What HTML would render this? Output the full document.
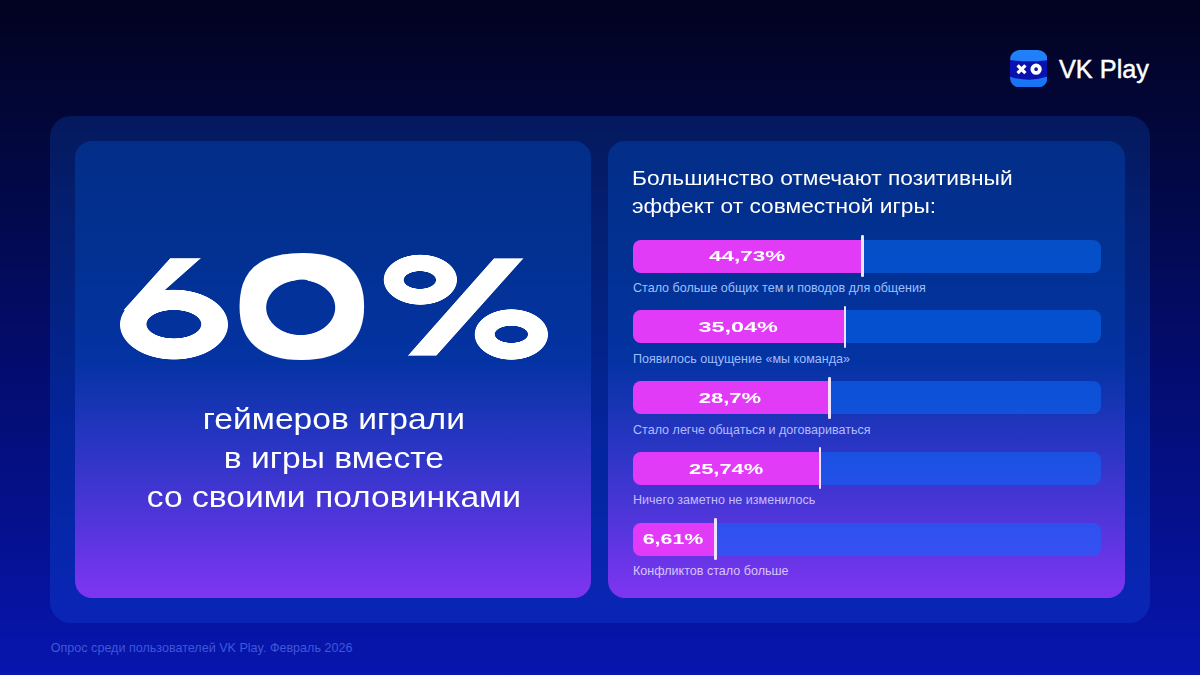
<!DOCTYPE html>
<html lang="ru">
<head>
<meta charset="utf-8">
<title>VK Play — опрос</title>
<style>
html,body{margin:0;padding:0}
body{
  width:1200px;height:675px;overflow:hidden;position:relative;
  font-family:"Liberation Sans",sans-serif;color:#fff;
  background:linear-gradient(180deg,#020320 0px,#020842 165px,#030c68 335px,#05108a 505px,#0715ab 655px,#0716b0 675px);
}
.abs{position:absolute}
.outer{left:50px;top:116px;width:1100px;height:506.5px;border-radius:21px;background:linear-gradient(180deg,#04195d 0%,#041a60 2.8%,#041f72 20.5%,#032280 36.3%,#03249a 60%,#0527a8 79.8%,#0a25b5 97.5%,#0a25b6 100%)}
.card{top:140.5px;height:457.5px;border-radius:17px;
  background:linear-gradient(180deg,#032e88 0%,#023193 26%,#0433a3 48%,#2735c2 65.5%,#5135db 83%,#7735ee 97%,#7f35f0 100%)}
.card.l{left:75.2px;width:516.1px}
.card.r{left:607.7px;width:517.1px}

/* big number */
.big{left:0;top:232px;width:640px;height:150px;white-space:nowrap;font-weight:700;font-size:148.7px;line-height:150px}
.big span{display:inline-block;vertical-align:top;position:relative;width:200px;height:150px;text-align:center;transform-origin:50% 50%}
.big .six{font-size:139.3px;-webkit-text-stroke:8px #fff;text-shadow:-6px 0px 0 #fff,-6px 5px 0 #fff,-6px 10px 0 #fff,-6px 15px 0 #fff,-3px 0px 0 #fff,-3px 5px 0 #fff,-3px 10px 0 #fff,-3px 15px 0 #fff,0px 5px 0 #fff,0px 10px 0 #fff,0px 15px 0 #fff,3px 0px 0 #fff,3px 5px 0 #fff,3px 10px 0 #fff,3px 15px 0 #fff,6px 0px 0 #fff,6px 5px 0 #fff,6px 10px 0 #fff,6px 15px 0 #fff;
  -webkit-mask-image:radial-gradient(ellipse 19.27px 14.4px at 99.9px 92.2px,transparent 0,transparent calc(100% - .6px),#000 100%),radial-gradient(ellipse 37.71px 35.2px at 100px 92.6px,#000 0,#000 calc(100% - .6px),transparent 100%),linear-gradient(121.93deg,transparent 0,transparent 96.2px,#000 96.8px),linear-gradient(308.04deg,transparent 0,transparent 140.1px,#000 140.7px),linear-gradient(180deg,transparent 0,transparent 26px,#000 26.6px,#000 78px,transparent 78.6px);
  mask-image:radial-gradient(ellipse 19.27px 14.4px at 99.9px 92.2px,transparent 0,transparent calc(100% - .6px),#000 100%),radial-gradient(ellipse 37.71px 35.2px at 100px 92.6px,#000 0,#000 calc(100% - .6px),transparent 100%),linear-gradient(121.93deg,transparent 0,transparent 96.2px,#000 96.8px),linear-gradient(308.04deg,transparent 0,transparent 140.1px,#000 140.7px),linear-gradient(180deg,transparent 0,transparent 26px,#000 26.6px,#000 78px,transparent 78.6px);
  -webkit-mask-composite:source-in,source-over,source-in,source-in,source-over;mask-composite:intersect,add,intersect,intersect,add}
.big .zero{font-size:133.75px;-webkit-text-stroke:12px #fff;
  -webkit-mask-image:radial-gradient(ellipse 21.26px 27.8px at calc(50% - .8px) 75.6px,transparent 0,transparent calc(100% - .6px),#000 100%);
  mask-image:radial-gradient(ellipse 21.26px 27.8px at calc(50% - .8px) 75.6px,transparent 0,transparent calc(100% - .6px),#000 100%)}
.big .pc{-webkit-text-stroke:4px #fff;text-shadow:-6px -20px 0 #fff,-6px -15px 0 #fff,-6px -10px 0 #fff,-6px -5px 0 #fff,-6px 0px 0 #fff,-6px 5px 0 #fff,-6px 10px 0 #fff,-6px 15px 0 #fff,-6px 20px 0 #fff,-3px -20px 0 #fff,-3px -15px 0 #fff,-3px -10px 0 #fff,-3px -5px 0 #fff,-3px 0px 0 #fff,-3px 5px 0 #fff,-3px 10px 0 #fff,-3px 15px 0 #fff,-3px 20px 0 #fff,0px -20px 0 #fff,0px -15px 0 #fff,0px -10px 0 #fff,0px -5px 0 #fff,0px 5px 0 #fff,0px 10px 0 #fff,0px 15px 0 #fff,0px 20px 0 #fff,3px -20px 0 #fff,3px -15px 0 #fff,3px -10px 0 #fff,3px -5px 0 #fff,3px 0px 0 #fff,3px 5px 0 #fff,3px 10px 0 #fff,3px 15px 0 #fff,3px 20px 0 #fff,6px -20px 0 #fff,6px -15px 0 #fff,6px -10px 0 #fff,6px -5px 0 #fff,6px 0px 0 #fff,6px 5px 0 #fff,6px 10px 0 #fff,6px 15px 0 #fff,6px 20px 0 #fff;
  -webkit-mask-image:radial-gradient(ellipse 12.46px 9px at 65.14px 48px,transparent 0,transparent calc(100% - .6px),#000 100%),radial-gradient(ellipse 12.84px 8.7px at 134.25px 102.3px,transparent 0,transparent calc(100% - .6px),#000 100%),radial-gradient(ellipse 27.95px 25.3px at 65.52px 47.7px,#000 0,#000 calc(100% - .6px),transparent 100%),radial-gradient(ellipse 27.95px 25.5px at 134.25px 102.5px,#000 0,#000 calc(100% - .6px),transparent 100%),linear-gradient(123.75deg,transparent 0,transparent 115.06px,#000 115.66px),linear-gradient(304.06deg,transparent 0,transparent 115.88px,#000 116.48px),linear-gradient(180deg,transparent 0,transparent 26.1px,#000 26.7px,#000 123.3px,transparent 123.9px);
  mask-image:radial-gradient(ellipse 12.46px 9px at 65.14px 48px,transparent 0,transparent calc(100% - .6px),#000 100%),radial-gradient(ellipse 12.84px 8.7px at 134.25px 102.3px,transparent 0,transparent calc(100% - .6px),#000 100%),radial-gradient(ellipse 27.95px 25.3px at 65.52px 47.7px,#000 0,#000 calc(100% - .6px),transparent 100%),radial-gradient(ellipse 27.95px 25.5px at 134.25px 102.5px,#000 0,#000 calc(100% - .6px),transparent 100%),linear-gradient(123.75deg,transparent 0,transparent 115.06px,#000 115.66px),linear-gradient(304.06deg,transparent 0,transparent 115.88px,#000 116.48px),linear-gradient(180deg,transparent 0,transparent 26.1px,#000 26.7px,#000 123.3px,transparent 123.9px);
  -webkit-mask-composite:source-in,source-in,source-over,source-over,source-in,source-in,source-over;mask-composite:intersect,intersect,add,add,intersect,intersect,add}
.sub{left:76.1px;top:398.6px;width:515.8px;text-align:center;white-space:nowrap;
  font-size:30px;line-height:39px;transform:scaleX(1.12);transform-origin:50% 50%}

/* right heading */
.head{left:632.3px;top:164.2px;white-space:nowrap;font-size:20.8px;line-height:27.7px;
  transform:scaleX(1.093);transform-origin:0 50%}

/* bars */
.track{left:632.5px;width:468px;height:33px;border-radius:8px;background:rgba(7,110,255,.5);overflow:hidden}
.fill{left:0;top:0;height:33px;background:#e23bf7}
.mark{width:2.5px;height:42px;border-radius:1.25px;background:#f3e2ff}
.pct{height:33px;display:flex;align-items:center;justify-content:center;white-space:nowrap;
  font-weight:700;font-size:14.8px;line-height:33px}
.pct span{display:inline-block;position:relative;top:.5px;transform:scaleX(1.47)}
.lab{left:633px;white-space:nowrap;font-size:12.56px;line-height:16px}

.foot{left:50.8px;top:640px;white-space:nowrap;font-size:12.57px;line-height:16px;color:#3f57da}

/* logo */
.logo-t{left:1059px;top:52.6px;white-space:nowrap;font-size:25.3px;line-height:32px;-webkit-text-stroke:.45px #fff}
</style>
</head>
<body>
<div class="abs outer"></div>
<div class="abs card l"></div>
<div class="abs card r"></div>

<div class="abs big"><span class="six" style="left:74.05px;transform:scaleX(1.4425)">6</span><span class="zero" style="left:2.2px;transform:scaleX(1.646)">0</span><span class="pc" style="left:-34.35px;transform:scaleX(1.324)">%</span></div>
<div class="abs sub">геймеров играли<br>в игры вместе<br>со своими половинками</div>

<div class="abs head">Большинство отмечают позитивный<br>эффект от совместной игры:</div>

<!-- bar 1 -->
<div class="abs track" style="top:239.6px"><div class="abs fill" style="width:229px"></div></div>
<div class="abs pct" style="left:632.5px;top:239.6px;width:228.2px"><span style="transform:scaleX(1.515)">44,73%</span></div>
<div class="abs mark" style="left:861px;top:235px"></div>
<div class="abs lab" style="top:280px;color:#9cc0ff">Стало больше общих тем и поводов для общения</div>

<!-- bar 2 -->
<div class="abs track" style="top:310.4px"><div class="abs fill" style="width:212px"></div></div>
<div class="abs pct" style="left:632.5px;top:310.4px;width:210.9px"><span style="transform:scaleX(1.582)">35,04%</span></div>
<div class="abs mark" style="left:843.7px;top:305.8px"></div>
<div class="abs lab" style="top:350.7px;color:#9fbcff">Появилось ощущение «мы команда»</div>

<!-- bar 3 -->
<div class="abs track" style="top:381.2px"><div class="abs fill" style="width:197px"></div></div>
<div class="abs pct" style="left:632.5px;top:381.2px;width:195.7px"><span style="transform:scaleX(1.487)">28,7%</span></div>
<div class="abs mark" style="left:828.3px;top:376.6px"></div>
<div class="abs lab" style="top:421.5px;color:#b0bcff">Стало легче общаться и договариваться</div>

<!-- bar 4 -->
<div class="abs track" style="top:452px"><div class="abs fill" style="width:187px"></div></div>
<div class="abs pct" style="left:632.5px;top:452px;width:186.2px"><span style="transform:scaleX(1.48)">25,74%</span></div>
<div class="abs mark" style="left:818.8px;top:447.4px"></div>
<div class="abs lab" style="top:492.3px;color:#c4bcff">Ничего заметно не изменилось</div>

<!-- bar 5 -->
<div class="abs track" style="top:522.8px"><div class="abs fill" style="width:83px"></div></div>
<div class="abs pct" style="left:632.5px;top:522.8px;width:81.5px"><span style="transform:scaleX(1.446)">6,61%</span></div>
<div class="abs mark" style="left:714px;top:518.2px"></div>
<div class="abs lab" style="top:563px;color:#d8c4ff">Конфликтов стало больше</div>

<div class="abs foot">Опрос среди пользователей VK Play. Февраль 2026</div>

<!-- logo -->
<svg class="abs" style="left:1009.6px;top:49.8px" width="37.5" height="37.5" viewBox="0 0 37.5 37.5">
  <defs><clipPath id="lc"><rect x="0" y="0" width="37.5" height="37.5" rx="9.8" ry="9.8"/></clipPath>
  <linearGradient id="lg" x1="0" y1="0" x2="0" y2="1"><stop offset="0" stop-color="#2282fa"/><stop offset="1" stop-color="#1672f2"/></linearGradient></defs>
  <g clip-path="url(#lc)">
    <rect x="0" y="0" width="37.5" height="37.5" fill="url(#lg)"/>
    <path d="M0 10.1 Q18.75 12.6 37.5 10.1 L37.5 26.7 Q18.75 32.8 0 26.7 Z" fill="#0912ae"/>
    <path d="M7.6 15.3 L15.4 23.1 M15.4 15.3 L7.6 23.1" stroke="#fff" stroke-width="3.3" stroke-linecap="butt"/>
    <circle cx="26.1" cy="19.2" r="3.75" fill="#0912ae" stroke="#fff" stroke-width="3.8"/>
  </g>
</svg>
<div class="abs logo-t">VK Play</div>
</body>
</html>
